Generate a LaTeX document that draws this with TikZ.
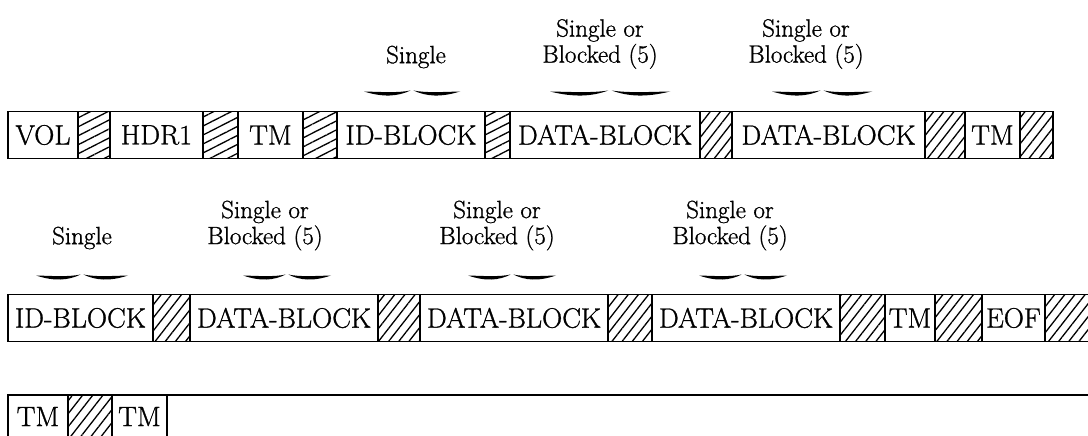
\documentclass[tikz,border=0pt]{standalone}
\usepackage{fontspec}
\usetikzlibrary{patterns.meta}

\newfontfamily\tapefont{Latin Modern Roman}[FakeBold=1.0]
\newcommand\boxfont{\tapefont\fontsize{28}{30}\selectfont}
\newcommand\labelfont{\tapefont\fontsize{25}{26}\selectfont}

\tikzset{
  blk/.style={draw, line width=1.1pt, inner sep=0pt, outer sep=0pt,
              minimum height=47, font=\boxfont},
  hat/.style={blk, pattern={Lines[angle=52, distance=8pt, line width=1.3pt]}},
  hatlow/.style={blk, pattern={Lines[angle=27, distance=8pt, line width=1.3pt]}},
  tall/.style={minimum height=50},
  lbl/.style={font=\labelfont, align=center, inner sep=0pt},
  % flat brace drawn as two tapered strokes meeting in a small cusp
  wave/.pic={
    \fill (-1,-1.5) .. controls (-0.6,4.5) and (-0.3,3.5) .. (-0.03,-2.5)
          .. controls (-0.3,0) and (-0.6,-1) .. cycle;
    \fill (1,-1.5) .. controls (0.6,4.5) and (0.3,3.5) .. (0.03,-2.5)
          .. controls (0.3,0) and (0.6,-1) .. cycle;
  }
}

\begin{document}
\begin{tikzpicture}[x=1pt, y=-1pt]
\useasboundingbox (0,0) rectangle (1088,436);

% ---- first tape line ----
\node[blk, minimum width=70]   (vol)  at (43,135)    {VOL};
\node[hatlow, minimum width=32] (ga)  at (94,135)    {};
\node[blk, minimum width=93]   (hdr)  at (156.5,135) {HDR1\hspace{14pt}};
\node[hatlow, minimum width=35] (gb)  at (220.5,135) {};
\node[blk, minimum width=65]   (tma)  at (270.5,135) {TM};
\node[hatlow, minimum width=34] (gc)  at (320,135)   {};
\node[blk, minimum width=148]  (ida)  at (411,135)   {ID-BLOCK};
\node[hatlow, minimum width=25] (gd)  at (497.5,135) {};
\node[blk, minimum width=190]  (daa)  at (605,135)   {DATA-BLOCK};
\node[hat, minimum width=32]   (ge)   at (716,135)   {};
\node[blk, minimum width=193]  (dab)  at (828.5,135) {DATA-BLOCK};
\node[hat, minimum width=40]   (gf)   at (945,135)   {};
\node[blk, minimum width=55]   (tmb)  at (992.5,135) {TM};
\node[hat, minimum width=33]   (gg)   at (1036.5,135) {};

\node[lbl] (la) at (416,57) {Single};
\node[lbl] (lb) at (600,44) {Single or\\Blocked (5)};
\node[lbl] (lc) at (806,44) {Single or\\Blocked (5)};
\pic[xscale=48] at (412,93) {wave};
\pic[xscale=60] at (610,93) {wave};
\pic[xscale=50] at (822,93) {wave};

% ---- second tape line ----
\node[blk, minimum width=145]  (idb)  at (80.5,318)  {ID-BLOCK};
\node[hat, minimum width=37]   (gh)   at (171.5,318) {};
\node[blk, minimum width=188]  (dac)  at (284,318)   {DATA-BLOCK};
\node[hat, minimum width=42]   (gi)   at (399,318)   {};
\node[blk, minimum width=188]  (dad)  at (514,318)   {DATA-BLOCK};
\node[hat, minimum width=44]   (gj)   at (630,318)   {};
\node[blk, minimum width=188]  (dae)  at (746,318)   {DATA-BLOCK};
\node[hat, minimum width=45]   (gk)   at (862.5,318) {};
\node[blk, minimum width=50]   (tmc)  at (910,318)   {TM};
\node[hat, minimum width=47]   (gl)   at (958.5,318) {};
\node[blk, minimum width=63]   (eof)  at (1013.5,318) {EOF};
\node[hat, minimum width=50]   (gm)   at (1070,318)  {};

\node[lbl] (ld) at (82,238) {Single};
\node[lbl] (le) at (265,225.5) {Single or\\Blocked (5)};
\node[lbl] (lf) at (497,225.5) {Single or\\Blocked (5)};
\node[lbl] (lg) at (730,225.5) {Single or\\Blocked (5)};
\pic[xscale=46] at (82,277) {wave};
\pic[xscale=44] at (287,277) {wave};
\pic[xscale=44] at (512,277) {wave};
\pic[xscale=44] at (743,277) {wave};

% ---- third tape line (runs off the bottom) ----
\node[blk, tall, minimum width=60] (tmd) at (38,420)    {\raisebox{7pt}{TM}};
\node[hat, tall, minimum width=44] (gn)  at (90,420)    {};
\node[blk, tall, minimum width=55] (tme) at (139.5,420) {\raisebox{7pt}{TM}};
\coordinate (tapeend) at (1095,395);
\draw[line width=1.1pt] (tme.north east) -- (tapeend);
\end{tikzpicture}
\end{document}
